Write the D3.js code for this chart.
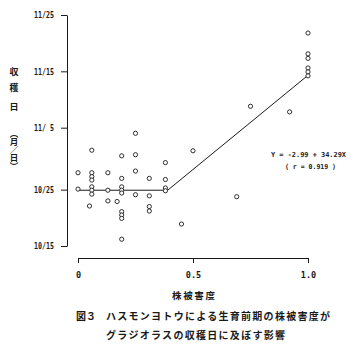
<!DOCTYPE html>
<html>
<head>
<meta charset="utf-8">
<script src="https://cdn.jsdelivr.net/npm/d3@7"></script>
<style>
  html, body { margin: 0; padding: 0; background: #fff; }
  svg { display: block; }
  text { fill: #1a1a1a; }
</style>
</head>
<body>
<svg id="chart" width="355" height="351"></svg>
<script>
const W = 355;
const H = 351;

// 株被害度 (x) and harvest day counted from Oct 0 (Nov 1 = 32)
const damage = [
  0, 0, 0.05,
  0.06, 0.06, 0.06, 0.06, 0.06, 0.06, 0.06,
  0.13, 0.13, 0.13, 0.17,
  0.19, 0.19, 0.19, 0.19, 0.19, 0.19, 0.19, 0.19, 0.19,
  0.25, 0.25, 0.25, 0.25,
  0.31, 0.31, 0.31, 0.31,
  0.38, 0.38, 0.38, 0.38,
  0.45, 0.5, 0.69, 0.75, 0.92,
  1.0, 1.0, 1.0, 1.0, 1.0, 1.0
];
const harvestDay = [
  28.0, 25.1, 22.1,
  32.0, 28.0, 27.3, 26.7, 25.5, 24.9, 24.2,
  28.0, 24.9, 23.0, 22.9,
  31.0, 27.0, 25.5, 24.9, 24.4, 21.1, 20.5, 19.9, 16.2,
  35.0, 31.2, 28.3, 24.1,
  27.0, 23.9, 22.0, 21.2,
  29.8, 26.8, 25.3, 24.8,
  18.9, 31.9, 23.75, 39.8, 38.8,
  52.8, 49.1, 48.3, 46.6, 45.9, 45.2
];

// broken-line fit: plateau then Y = -2.99 + 34.29X
const fitX = [0, 0.39, 1.0];
const fitDay = [24.9, 24.9, 45.3];

const yTickDays = [15, 25, 36, 46, 56];
const yTickLabels = ["10/15", "10/25", "11/ 5", "11/15", "11/25"];
const xTicks = [0, 0.5, 1.0];

const equation = "Y = -2.99 + 34.29X";
const rText = "( r = 0.919 )";
const yTitleTop = ["収", "穫", "日"];
const yTitleUnit = "（月／日）";
const captionLines = ["ハスモンヨトウによる生育前期の株被害度が", "グラジオラスの収穫日に及ぼす影響"];

const toDate = (d) => new Date(Date.UTC(1990, 9, 0) + d * 864e5);

const svg = d3.select("#chart");
svg.append("rect").attr("width", W).attr("height", H).attr("fill", "#fff");

const x = d3.scaleLinear().domain([0, 1]).range([78, 308]);
const y = d3.scaleUtc().domain([toDate(15), toDate(56)]).range([246, 15]);

// y axis
const yAxis = svg
  .append("g")
  .attr("transform", "translate(67,0)")
  .call(
    d3
      .axisLeft(y)
      .tickValues(yTickDays.map(toDate))
      .tickFormat((d, i) => yTickLabels[i])
      .tickSize(6)
      .tickSizeOuter(0)
      .tickPadding(7)
  );
yAxis.selectAll("text")
  .attr("font-family", "'DejaVu Sans Mono', monospace")
  .attr("font-weight", "bold")
  .attr("font-size", 8.5)
  .attr("textLength", 20)
  .attr("lengthAdjust", "spacingAndGlyphs");

// x axis
const xAxis = svg
  .append("g")
  .attr("transform", "translate(0,258)")
  .call(
    d3
      .axisBottom(x)
      .tickValues(xTicks)
      .tickFormat((d) => (d === 0 ? "0" : d.toFixed(1)))
      .tickSize(5)
      .tickSizeOuter(0)
      .tickPadding(9)
  );
xAxis.selectAll("text")
  .attr("font-family", "'DejaVu Sans Mono', monospace")
  .attr("font-weight", "bold")
  .attr("font-size", 8.5);

svg.selectAll(".domain, .tick line").attr("stroke", "#1a1a1a").attr("stroke-width", 1);

// fitted line
svg
  .append("path")
  .datum(fitX.map((v, i) => [v, fitDay[i]]))
  .attr("fill", "none")
  .attr("stroke", "#1a1a1a")
  .attr("stroke-width", 1)
  .attr("d", d3.line().x((d) => x(d[0])).y((d) => y(toDate(d[1]))));

// points
svg
  .append("g")
  .selectAll("circle")
  .data(damage.map((v, i) => [v, harvestDay[i]]))
  .join("circle")
  .attr("cx", (d) => x(d[0]))
  .attr("cy", (d) => y(toDate(d[1])))
  .attr("r", 2.1)
  .attr("fill", "#fff")
  .attr("stroke", "#1a1a1a")
  .attr("stroke-width", 0.9);

// regression text
svg.append("text")
  .attr("x", 271).attr("y", 157)
  .attr("font-family", "'DejaVu Sans Mono', monospace")
  .attr("font-weight", "bold")
  .attr("font-size", 6.9)
  .attr("textLength", 75)
  .attr("lengthAdjust", "spacingAndGlyphs")
  .text(equation);
svg.append("text")
  .attr("x", 285).attr("y", 169)
  .attr("font-family", "'DejaVu Sans Mono', monospace")
  .attr("font-weight", "bold")
  .attr("font-size", 6.9)
  .attr("textLength", 51)
  .attr("lengthAdjust", "spacingAndGlyphs")
  .text(rText);

// y title, stacked vertically
const cjk = "'Noto Sans CJK JP', sans-serif";
svg.append("g")
  .selectAll("text")
  .data(yTitleTop)
  .join("text")
  .attr("x", 14)
  .attr("y", (d, i) => [72, 88, 107][i])
  .attr("dy", "0.36em")
  .attr("text-anchor", "middle")
  .attr("font-family", cjk)
  .attr("font-weight", "bold")
  .attr("font-size", 9)
  .text((d) => d);
svg.append("text")
  .attr("x", 14)
  .attr("y", 130)
  .attr("font-family", cjk)
  .attr("font-weight", "bold")
  .attr("font-size", 8.5)
  .style("writing-mode", "vertical-rl")
  .attr("textLength", 40)
  .text(yTitleUnit);

// x title
svg.append("text")
  .attr("x", 172).attr("y", 299)
  .attr("font-family", cjk)
  .attr("font-weight", "bold")
  .attr("font-size", 9.5)
  .attr("textLength", 43)
  .text("株被害度");

// caption
svg.append("text")
  .attr("x", 76).attr("y", 320)
  .attr("font-family", cjk)
  .attr("font-weight", "bold")
  .attr("font-size", 10)
  .text("図３");
svg.append("text")
  .attr("x", 106).attr("y", 320)
  .attr("font-family", cjk)
  .attr("font-weight", "bold")
  .attr("font-size", 10)
  .attr("textLength", 224)
  .text(captionLines[0]);
svg.append("text")
  .attr("x", 106).attr("y", 339)
  .attr("font-family", cjk)
  .attr("font-weight", "bold")
  .attr("font-size", 10)
  .attr("textLength", 179)
  .text(captionLines[1]);
</script>
</body>
</html>
